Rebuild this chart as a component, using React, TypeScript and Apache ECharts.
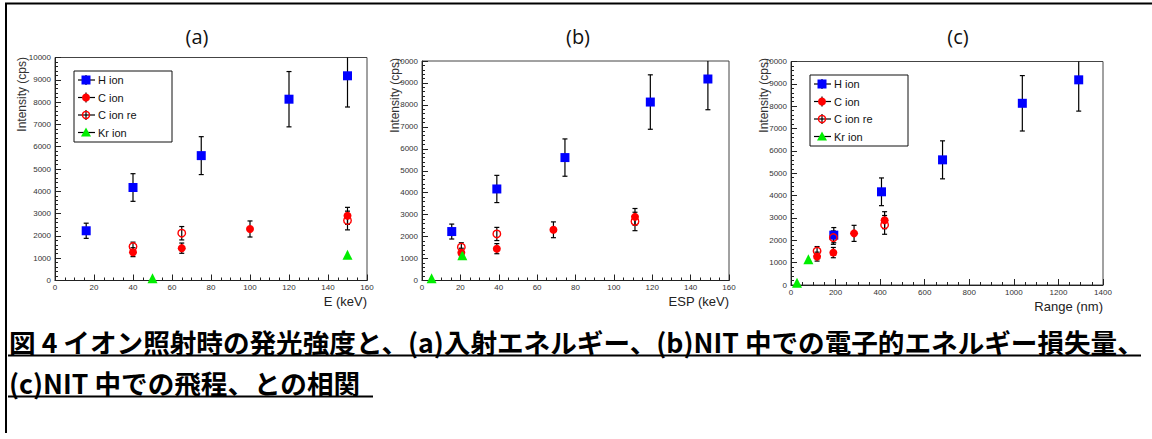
import React, { useEffect, useRef } from "react";
import * as echarts from "echarts";

// ---- texts ----
const PANEL_TITLES = ["(a)", "(b)", "(c)"];
const X_NAMES = ["E (keV)", "ESP (keV)", "Range (nm)"];
const Y_NAME = "Intensity (cps)";
const SERIES_NAMES = ["H ion", "C ion", "C ion re", "Kr ion"];
const CAPTION_LINE1 = "図 4 イオン照射時の発光強度と、(a)入射エネルギー、(b)NIT 中での電子的エネルギー損失量、";
const CAPTION_LINE2 = "(c)NIT 中での飛程、との相関";

// ---- axes ----
const X_MAX = [160, 160, 1400];
const X_INTERVAL = [20, 20, 200];
const Y_MAX = 10000;
const Y_INTERVAL = 1000;

// ---- H ion ----
const H_E = [16, 40, 75, 120, 150];
const H_ESP = [15.5, 39, 74.5, 119, 149];
const H_RANGE = [192, 406, 680, 1038, 1291];
const H_INT = [2230, 4170, 5600, 8130, 9180];
const H_ERR = [340, 620, 850, 1240, 1400];

// ---- C ion ----
const C_E = [40, 65, 100, 150];
const C_ESP = [20.5, 39, 68.5, 111];
const C_RANGE = [117, 190, 283, 420];
const C_INT = [1270, 1450, 2310, 2900];
const C_ERR = [200, 230, 360, 380];

// ---- C ion re ----
const CRE_E = [40, 65, 150];
const CRE_ESP = [20.5, 39, 111];
const CRE_RANGE = [117, 190, 420];
const CRE_INT = [1520, 2120, 2690];
const CRE_ERR = [200, 300, 420];

// ---- Kr ion ----
const KR_E = [50, 150];
const KR_ESP = [5, 21];
const KR_RANGE = [27, 78];
const KR_INT = [100, 1150];

const BLUE = "#0000ff";
const RED = "#ff0000";
const GREEN = "#00ee00";

const GRIDS = [
  { left: 55, top: 57.5, width: 312, height: 223 },
  { left: 422, top: 61, width: 307, height: 219.5 },
  { left: 791, top: 61.5, width: 312, height: 223.5 },
];
const TITLE_X = [197, 578, 958];
const XNAME_PAD = [14, 14, 15];
const YNAME_POS = [
  { x: 22, y: 57 },
  { x: 395, y: 58 },
  { x: 764, y: 58 },
];
const LEGENDS = [
  { x: 74, y: 71 },
  { x: 810, y: 75 },
];

const pts = (xs: number[], ys: number[]) => xs.map((x, i) => [x, ys[i]]);
const errs = (xs: number[], ys: number[], es: number[]) =>
  xs.map((x, i) => [x, ys[i] - es[i], ys[i] + es[i]]);

const errRender = (params: any, api: any) => {
  const x = api.value(0);
  const lo = api.coord([x, api.value(1)]);
  const hi = api.coord([x, api.value(2)]);
  const cs = params.coordSys;
  const top = Math.max(hi[1], cs.y);
  const bot = Math.min(lo[1], cs.y + cs.height);
  const cx = lo[0];
  const st = { stroke: "#000", lineWidth: 1.2 };
  const children: any[] = [
    { type: "line", shape: { x1: cx, y1: top, x2: cx, y2: bot }, style: st },
  ];
  if (hi[1] >= cs.y) children.push({ type: "line", shape: { x1: cx - 2.5, y1: hi[1], x2: cx + 2.5, y2: hi[1] }, style: st });
  children.push({ type: "line", shape: { x1: cx - 2.5, y1: bot, x2: cx + 2.5, y2: bot }, style: st });
  return { type: "group", children };
};

function legendGroup(x: number, y: number) {
  const children: any[] = [
    { type: "rect", shape: { x: 0, y: 0, width: 98, height: 71 }, style: { fill: "#fff", stroke: "#111", lineWidth: 1 } },
  ];
  SERIES_NAMES.forEach((name, i) => {
    const cy = 9 + 17.5 * i;
    const mx = 12;
    children.push({ type: "line", shape: { x1: 4, y1: cy, x2: 21, y2: cy }, style: { stroke: "#000", lineWidth: 1.2 } });
    if (i < 3) children.push({ type: "line", shape: { x1: mx, y1: cy - 5, x2: mx, y2: cy + 5 }, style: { stroke: "#000", lineWidth: 1.2 } });
    if (i === 0) children.push({ type: "rect", shape: { x: mx - 4.5, y: cy - 4.5, width: 9, height: 9 }, style: { fill: BLUE } });
    if (i === 1) children.push({ type: "circle", shape: { cx: mx, cy, r: 4 }, style: { fill: RED } });
    if (i === 2) children.push({ type: "circle", shape: { cx: mx, cy, r: 3.6 }, style: { fill: "rgba(0,0,0,0)", stroke: RED, lineWidth: 1.4 } });
    if (i === 3) children.push({ type: "polygon", shape: { points: [[mx, cy - 5], [mx - 5, cy + 4], [mx + 5, cy + 4]] }, style: { fill: GREEN } });
    children.push({
      type: "text", x: 24, y: cy,
      style: { text: name, fontSize: 11, fontFamily: "Liberation Sans, Arial", fill: "#111", verticalAlign: "middle", align: "left" },
    });
  });
  return { type: "group", x, y, children, z: 100 };
}

export default function App() {
  const ref = useRef<HTMLDivElement>(null);
  useEffect(() => {
    document.body.style.margin = "0";
    if (!ref.current) return;
    const chart = echarts.init(ref.current, undefined, { renderer: "svg" });

    const xs = [
      [H_E, C_E, CRE_E, KR_E],
      [H_ESP, C_ESP, CRE_ESP, KR_ESP],
      [H_RANGE, C_RANGE, CRE_RANGE, KR_RANGE],
    ];

    const series: any[] = [];
    xs.forEach((set, p) => {
      const [hx, cx, crx, kx] = set;
      series.push(
        { type: "custom", name: "H err", xAxisIndex: p, yAxisIndex: p, renderItem: errRender, data: errs(hx, H_INT, H_ERR), z: 2, silent: true },
        { type: "custom", name: "C err", xAxisIndex: p, yAxisIndex: p, renderItem: errRender, data: errs(cx, C_INT, C_ERR), z: 2, silent: true },
        { type: "custom", name: "C re err", xAxisIndex: p, yAxisIndex: p, renderItem: errRender, data: errs(crx, CRE_INT, CRE_ERR), z: 2, silent: true },
        { type: "scatter", name: SERIES_NAMES[0], xAxisIndex: p, yAxisIndex: p, data: pts(hx, H_INT), symbol: "rect", symbolSize: 9, itemStyle: { color: BLUE, opacity: 1 }, z: 3 },
        { type: "scatter", name: SERIES_NAMES[1], xAxisIndex: p, yAxisIndex: p, data: pts(cx, C_INT), symbol: "circle", symbolSize: 8, itemStyle: { color: RED, opacity: 1 }, z: 3 },
        { type: "scatter", name: SERIES_NAMES[2], xAxisIndex: p, yAxisIndex: p, data: pts(crx, CRE_INT), symbol: "circle", symbolSize: 7.5, itemStyle: { color: "rgba(0,0,0,0)", borderColor: RED, borderWidth: 1.4, opacity: 1 }, z: 4 },
        { type: "scatter", name: SERIES_NAMES[3], xAxisIndex: p, yAxisIndex: p, data: pts(kx, KR_INT), symbol: "triangle", symbolSize: 10, itemStyle: { color: GREEN, opacity: 1 }, z: 3 }
      );
    });

    const axisCommon = {
      axisLine: { show: true, lineStyle: { color: "#222", width: 1 } },
      axisTick: { show: true, inside: true, length: 6, lineStyle: { color: "#222" } },
      minorTick: { show: true, length: 3, lineStyle: { color: "#222" } },
      splitLine: { show: false },
      axisLabel: { fontSize: 8, fontFamily: "Liberation Sans, Arial", color: "#333", formatter: (v: number) => String(v) },
    };

    const option: any = {
      animation: false,
      backgroundColor: "#fff",
      title: PANEL_TITLES.map((t, i) => ({
        text: t, left: TITLE_X[i], top: 26, textAlign: "center", padding: 0,
        textStyle: { fontSize: 20, fontWeight: "normal", fontFamily: "Open Sans, Liberation Sans", color: "#111" },
      })),
      grid: GRIDS.map((g) => ({ ...g, show: true, borderColor: "#444", borderWidth: 1, backgroundColor: "rgba(0,0,0,0)", containLabel: false })),
      xAxis: GRIDS.map((_, i) => ({
        ...axisCommon,
        type: "value", gridIndex: i, min: 0, max: X_MAX[i], interval: X_INTERVAL[i],
        minorTick: { ...axisCommon.minorTick, splitNumber: 4 },
        axisLabel: { ...axisCommon.axisLabel, margin: 3 },
        name: X_NAMES[i], nameLocation: "end", nameGap: 0,
        nameTextStyle: { fontSize: 13, fontFamily: "Liberation Sans, Arial", color: "#222", align: "right", verticalAlign: "top", padding: [XNAME_PAD[i], 0, 0, 0] },
      })),
      yAxis: GRIDS.map((_, i) => ({
        ...axisCommon,
        type: "value", gridIndex: i, min: 0, max: Y_MAX, interval: Y_INTERVAL,
        minorTick: { ...axisCommon.minorTick, splitNumber: 5 },
        axisLabel: { ...axisCommon.axisLabel, margin: 4 },
      })),
      series,
      graphic: [
        { type: "line", shape: { x1: 5, y1: 3.5, x2: 1152, y2: 3.5 }, style: { stroke: "#000", lineWidth: 2 } },
        { type: "line", shape: { x1: 6, y1: 3, x2: 6, y2: 433 }, style: { stroke: "#000", lineWidth: 2 } },
        ...YNAME_POS.map((p) => ({
          type: "text", x: p.x, y: p.y, rotation: Math.PI / 2, z: 50,
          style: { text: Y_NAME, fontSize: 12, fontFamily: "Liberation Sans, Arial", fill: "#333", align: "right", verticalAlign: "middle" },
        })),
        ...LEGENDS.map((l) => legendGroup(l.x, l.y)),
        {
          type: "text", x: 9, y: 341,
          style: { text: CAPTION_LINE1, fontSize: 26.6, fontWeight: "bold", fontFamily: "Noto Sans CJK JP", fill: "#000", verticalAlign: "middle", align: "left" },
        },
        { type: "line", shape: { x1: 8, y1: 355.5, x2: 1141, y2: 355.5 }, style: { stroke: "#000", lineWidth: 2 } },
        {
          type: "text", x: 9, y: 382,
          style: { text: CAPTION_LINE2, fontSize: 26.6, fontWeight: "bold", fontFamily: "Noto Sans CJK JP", fill: "#000", verticalAlign: "middle", align: "left" },
        },
        { type: "line", shape: { x1: 8, y1: 396.5, x2: 373, y2: 396.5 }, style: { stroke: "#000", lineWidth: 2 } },
      ],
    };
    chart.setOption(option);
    return () => chart.dispose();
  }, []);
  return <div ref={ref} style={{ width: 1152, height: 439 }} />;
}
